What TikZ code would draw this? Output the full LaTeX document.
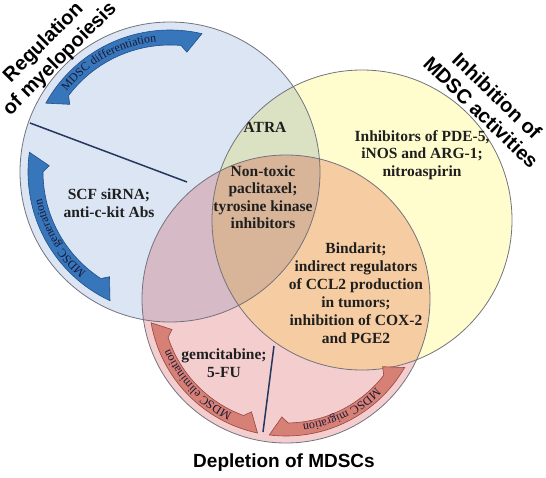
\documentclass[tikz,border=0pt]{standalone}
\usepackage{fontspec}
\setmainfont{Liberation Serif}
\newfontfamily\headfont{Liberation Sans}
\usetikzlibrary{decorations.text}
\definecolor{bluefill}{RGB}{219,229,243}
\definecolor{yellowfill}{RGB}{255,252,206}
\definecolor{pinkfill}{RGB}{244,206,206}
\definecolor{atrafill}{RGB}{219,226,196}
\definecolor{mauvefill}{RGB}{214,186,198}
\definecolor{orangefill}{RGB}{246,204,162}
\definecolor{brownfill}{RGB}{216,180,152}
\definecolor{rimgray}{RGB}{115,115,125}
\definecolor{bandblue}{RGB}{55,118,186}
\definecolor{bandblueedge}{RGB}{35,78,135}
\definecolor{bandred}{RGB}{214,128,118}
\definecolor{bandrededge}{RGB}{150,70,65}
\definecolor{linenavy}{RGB}{35,55,95}
\definecolor{bandtext}{RGB}{25,25,55}
\newcommand{\bandfont}{\fontsize{12}{12}\selectfont}
\tikzset{
  rim/.style     ={draw=rimgray, line width=0.8},
  blueband/.style={fill=bandblue, draw=bandblueedge, line width=0.6},
  redband/.style ={fill=bandred, draw=bandrededge, line width=0.6},
  divider/.style ={draw=linenavy, line width=1.5},
  head/.style    ={font=\headfont\bfseries\fontsize{20}{23}\selectfont, align=center, inner sep=0pt},
  lbl/.style     ={font=\bfseries\fontsize{15.5}{17.5}\selectfont, align=center, inner sep=0pt, text=black!88},
}

\begin{document}
\begin{tikzpicture}[x=1pt,y=1pt]
\useasboundingbox (0,0) rectangle (546,-477);
\coordinate (cB) at (170,-172);
\coordinate (cY) at (362,-220);
\coordinate (cR) at (286,-299);
\fill[bluefill] (cB) circle[radius=150];
\fill[yellowfill] (cY) circle[radius=150];
\fill[pinkfill] (cR) circle[radius=144];
\begin{scope}
  \clip (cB) circle[radius=150];
  \fill[atrafill] (cY) circle[radius=150];
  \fill[mauvefill] (cR) circle[radius=144];
\end{scope}
\begin{scope}
  \clip (cY) circle[radius=150];
  \fill[orangefill] (cR) circle[radius=144];
  \clip (cB) circle[radius=150];
  \fill[brownfill] (cR) circle[radius=144];
\end{scope}
\draw[rim] (cB) circle[radius=150];
\draw[rim] (cY) circle[radius=150];
\draw[rim] (cR) circle[radius=144];

\begin{scope}[shift={(170,-172)}]
\foreach \s/\e in {151/77,245/172}
  \filldraw[blueband] (\s:142) arc[start angle=\s, end angle=\e, radius=142]
    -- ({\e+5}:121) -- ({\e+8}:127) arc[start angle=\e+8, end angle=\s-8, radius=127]
    -- ({\s-5}:121) -- cycle;
\path[decorate, decoration={text along path, text align=center,
  text={|\bandfont\color{bandtext}|MDSC differentiation}}]
  (150:131) arc[start angle=150, end angle=88, radius=131];
\path[decorate, decoration={text along path, text align=center,
  text={|\bandfont\color{bandtext}|MDSC generation}}]
  (240:131) arc[start angle=240, end angle=182, radius=131];
\end{scope}

\begin{scope}[shift={(286,-299)}]
\foreach \s/\e in {258/190,330/263}
  \filldraw[redband] (\s:137) arc[start angle=\s, end angle=\e, radius=137]
    -- ({\e+5}:118) -- ({\e+8}:124) arc[start angle=\e+8, end angle=\s-8, radius=124]
    -- ({\s-5}:118) -- cycle;
\path[decorate, decoration={text along path, text align=center,
  text={|\bandfont\color{bandtext}|MDSC elimination}}]
  (252:126.5) arc[start angle=252, end angle=196, radius=126.5];
\path[decorate, decoration={text along path, text align=center,
  text={|\bandfont\color{bandtext}|MDSC migration}}]
  (325:126.5) arc[start angle=325, end angle=268, radius=126.5];
\end{scope}

\coordinate (d1a) at (30,-123);
\coordinate (d1b) at (187,-182);
\coordinate (d2a) at (274,-346);
\coordinate (d2b) at (263,-432);
\draw[divider] (d1a) -- (d1b);
\draw[divider] (d2a) -- (d2b);

\node[lbl] (atra) at (265,-127) {ATRA};
\node[lbl] (nontoxic) at (263,-197) {Non-toxic\\paclitaxel;\\tyrosine kinase\\inhibitors};
\node[lbl] (scf) at (109,-203) {SCF siRNA;\\anti-c-kit Abs};
\node[lbl] (pde) at (422,-155) {Inhibitors of PDE-5,\\iNOS and ARG-1;\\nitroaspirin};
\node[lbl, font=\bfseries\fontsize{15.5}{18}\selectfont] (bindarit) at (356,-293)
  {Bindarit;\\indirect regulators\\of CCL2 production\\in tumors;\\inhibition of COX-2\\and PGE2};
\node[lbl] (gemci) at (224,-363) {gemcitabine;\\5-FU};

\node[head, rotate=45] (regtitle) at (52,-51) {Regulation\\of myelopoiesis};
\node[head, rotate=-44] (inhtitle) at (489,-104) {Inhibition of\\MDSC activities};
\node[head, font=\headfont\bfseries\fontsize{19}{22}\selectfont] (deptitle) at (284,-463) {Depletion of MDSCs};
\end{tikzpicture}
\end{document}
